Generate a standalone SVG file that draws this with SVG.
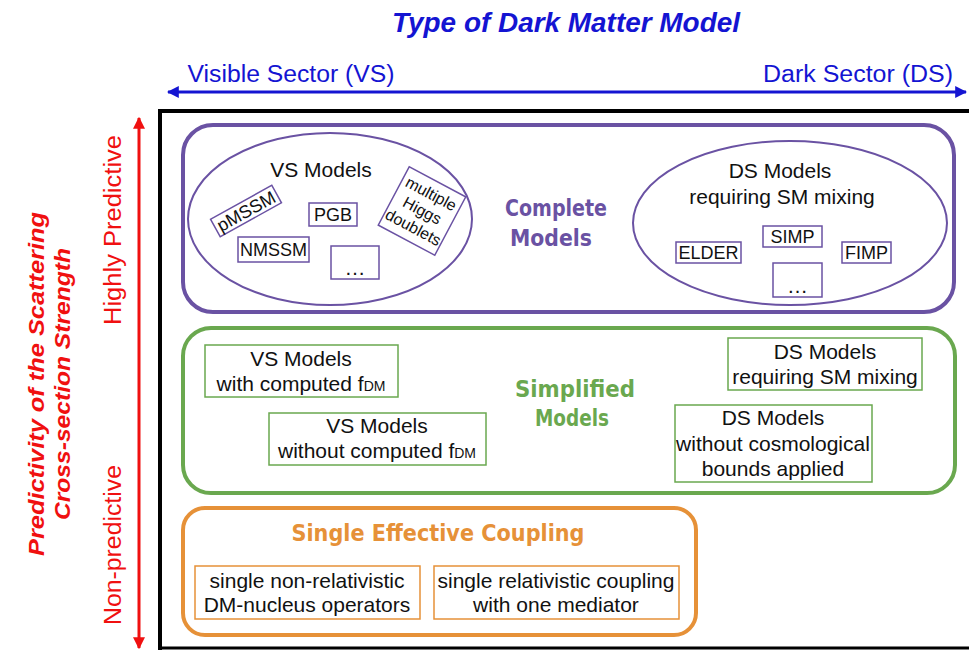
<svg xmlns="http://www.w3.org/2000/svg" width="969" height="651" viewBox="0 0 969 651">
<defs>
<style>
.t{font-family:"Liberation Sans",Arial,sans-serif;font-size:21px;fill:#111;text-anchor:middle}
.s{font-size:18px}
.sub{font-size:14px}
.pb{fill:#fff;stroke:#6a52a3;stroke-width:1.5}
.gb{fill:#fff;stroke:#6aa84f;stroke-width:1.5}
.ob{fill:#fff;stroke:#e69138;stroke-width:1.5}
.cm{font-family:"DejaVu Sans",sans-serif;font-weight:bold;font-size:23px;text-anchor:middle}
.ax{font-family:"Liberation Sans",Arial,sans-serif;font-size:23px;text-anchor:middle}
.yb{font-family:"Liberation Sans",Arial,sans-serif;font-size:22px;font-weight:bold;font-style:italic;fill:#f01010;text-anchor:middle}
</style>
<marker id="ab" viewBox="0 0 10 10" refX="9" refY="5" markerWidth="4" markerHeight="4" orient="auto-start-reverse" markerUnits="strokeWidth"><path d="M0,0 L10,5 L0,10 z" fill="#1414d2"/></marker>
<marker id="ar" viewBox="0 0 10 10" refX="9" refY="5" markerWidth="4" markerHeight="4" orient="auto-start-reverse" markerUnits="strokeWidth"><path d="M0,0 L10,5 L0,10 z" fill="#f01010"/></marker>
</defs>
<rect width="969" height="651" fill="#fff"/>

<g id="axes">
<text x="566" y="32" style="font-family:'Liberation Sans',Arial,sans-serif;font-size:27px;font-weight:bold;font-style:italic;fill:#1414d2;text-anchor:middle" textLength="348" lengthAdjust="spacingAndGlyphs">Type of Dark Matter Model</text>
<text class="ax" x="291" y="82" fill="#1414d2" textLength="207" lengthAdjust="spacingAndGlyphs">Visible Sector (VS)</text>
<text class="ax" x="858" y="82" fill="#1414d2" textLength="190" lengthAdjust="spacingAndGlyphs">Dark Sector (DS)</text>
<text class="ax" transform="translate(121,230) rotate(-90)" fill="#f01010" textLength="190" lengthAdjust="spacingAndGlyphs">Highly Predictive</text>
<text class="ax" transform="translate(121,545) rotate(-90)" fill="#f01010" textLength="160" lengthAdjust="spacingAndGlyphs">Non-predictive</text>
<text class="yb" transform="translate(44,384) rotate(-90)" textLength="344" lengthAdjust="spacingAndGlyphs">Predictivity of the Scattering</text>
<text class="yb" transform="translate(70,384) rotate(-90)" textLength="272" lengthAdjust="spacingAndGlyphs">Cross-section Strength</text>
</g>

<g id="connectors">
<line x1="168" y1="92" x2="966" y2="92" stroke="#1414d2" stroke-width="3" marker-start="url(#ab)" marker-end="url(#ab)"/>
<line x1="139" y1="118" x2="139" y2="648" stroke="#f01010" stroke-width="3" marker-start="url(#ar)" marker-end="url(#ar)"/>
</g>

<g id="frame">
<path d="M160,650 L160,111 L975,111" fill="none" stroke="#000" stroke-width="4"/>
<line x1="160" y1="648" x2="975" y2="648" stroke="#000" stroke-width="3"/>
</g>

<g id="complete">
<rect x="183" y="125" width="771" height="187" rx="30" fill="#fff" stroke="#6a52a3" stroke-width="4"/>
<text class="cm" x="556" y="216" fill="#6a52a3" textLength="102" lengthAdjust="spacingAndGlyphs">Complete</text>
<text class="cm" x="551" y="246" fill="#6a52a3" textLength="82" lengthAdjust="spacingAndGlyphs">Models</text>
</g>

<g id="vs-models">
<ellipse cx="330" cy="219" rx="142" ry="86" fill="#fff" stroke="#6a52a3" stroke-width="2"/>
<text class="t" x="321" y="177">VS Models</text>
</g>
<g id="pmssm" transform="translate(246,211) rotate(-29)">
<rect class="pb" x="-35" y="-10" width="70" height="20"/>
<text class="t s" x="0" y="6.5">pMSSM</text>
</g>
<g id="pgb">
<rect class="pb" x="309" y="203" width="48" height="23"/>
<text class="t s" x="333" y="221">PGB</text>
</g>
<g id="nmssm">
<rect class="pb" x="238" y="237" width="71" height="25"/>
<text class="t s" x="273.5" y="256">NMSSM</text>
</g>
<g id="vs-more">
<rect class="pb" x="331" y="246" width="48" height="33"/>
<text class="t" x="355" y="275">…</text>
</g>
<g id="higgs" transform="translate(422,211) rotate(28)">
<rect class="pb" x="-32" y="-33" width="64" height="66"/>
<text class="t" x="0" y="-14" style="font-size:16px">multiple</text>
<text class="t" x="0" y="5" style="font-size:16px">Higgs</text>
<text class="t" x="0" y="24" style="font-size:16px">doublets</text>
</g>

<g id="ds-models">
<ellipse cx="790" cy="223" rx="157" ry="82" fill="#fff" stroke="#6a52a3" stroke-width="2"/>
<text class="t" x="780" y="178">DS Models</text>
<text class="t" x="782" y="204">requiring SM mixing</text>
</g>
<g id="simp">
<rect class="pb" x="763" y="226" width="59" height="21"/>
<text class="t s" x="792.5" y="243">SIMP</text>
</g>
<g id="elder">
<rect class="pb" x="676" y="242" width="65" height="21"/>
<text class="t s" x="708.5" y="259">ELDER</text>
</g>
<g id="fimp">
<rect class="pb" x="842" y="242" width="49" height="21"/>
<text class="t s" x="866.5" y="259">FIMP</text>
</g>
<g id="ds-more">
<rect class="pb" x="773" y="263" width="49" height="34"/>
<text class="t" x="797.5" y="293">…</text>
</g>

<g id="simplified">
<rect x="183" y="328" width="772" height="165" rx="28" fill="#fff" stroke="#6aa84f" stroke-width="4"/>
<text class="cm" x="575" y="397" fill="#6aa84f" textLength="120" lengthAdjust="spacingAndGlyphs">Simplified</text>
<text class="cm" x="572" y="426" fill="#6aa84f" textLength="74" lengthAdjust="spacingAndGlyphs">Models</text>
</g>
<g id="vs-with">
<rect class="gb" x="205" y="345" width="193" height="52"/>
<text class="t" x="301" y="366">VS Models</text>
<text class="t" x="301" y="391">with computed f<tspan class="sub">DM</tspan></text>
</g>
<g id="vs-without">
<rect class="gb" x="269" y="413" width="217" height="52"/>
<text class="t" x="377" y="433">VS Models</text>
<text class="t" x="377" y="458">without computed f<tspan class="sub">DM</tspan></text>
</g>
<g id="ds-req">
<rect class="gb" x="728" y="338" width="194" height="52"/>
<text class="t" x="825" y="359">DS Models</text>
<text class="t" x="825" y="384">requiring SM mixing</text>
</g>
<g id="ds-without">
<rect class="gb" x="675" y="405" width="197" height="77"/>
<text class="t" x="773" y="425">DS Models</text>
<text class="t" x="773" y="451">without cosmological</text>
<text class="t" x="773" y="476">bounds applied</text>
</g>

<g id="single">
<rect x="183" y="508" width="513" height="127" rx="22" fill="#fff" stroke="#e69138" stroke-width="4"/>
<text class="cm" x="438" y="541" fill="#e69138" textLength="293" lengthAdjust="spacingAndGlyphs">Single Effective Coupling</text>
</g>
<g id="nonrel">
<rect class="ob" x="195" y="566" width="225" height="53"/>
<text class="t" x="307" y="588">single non-relativistic</text>
<text class="t" x="307" y="612">DM-nucleus operators</text>
</g>
<g id="rel">
<rect class="ob" x="434" y="566" width="245" height="53"/>
<text class="t" x="556" y="588">single relativistic coupling</text>
<text class="t" x="556" y="612">with one mediator</text>
</g>
</svg>
